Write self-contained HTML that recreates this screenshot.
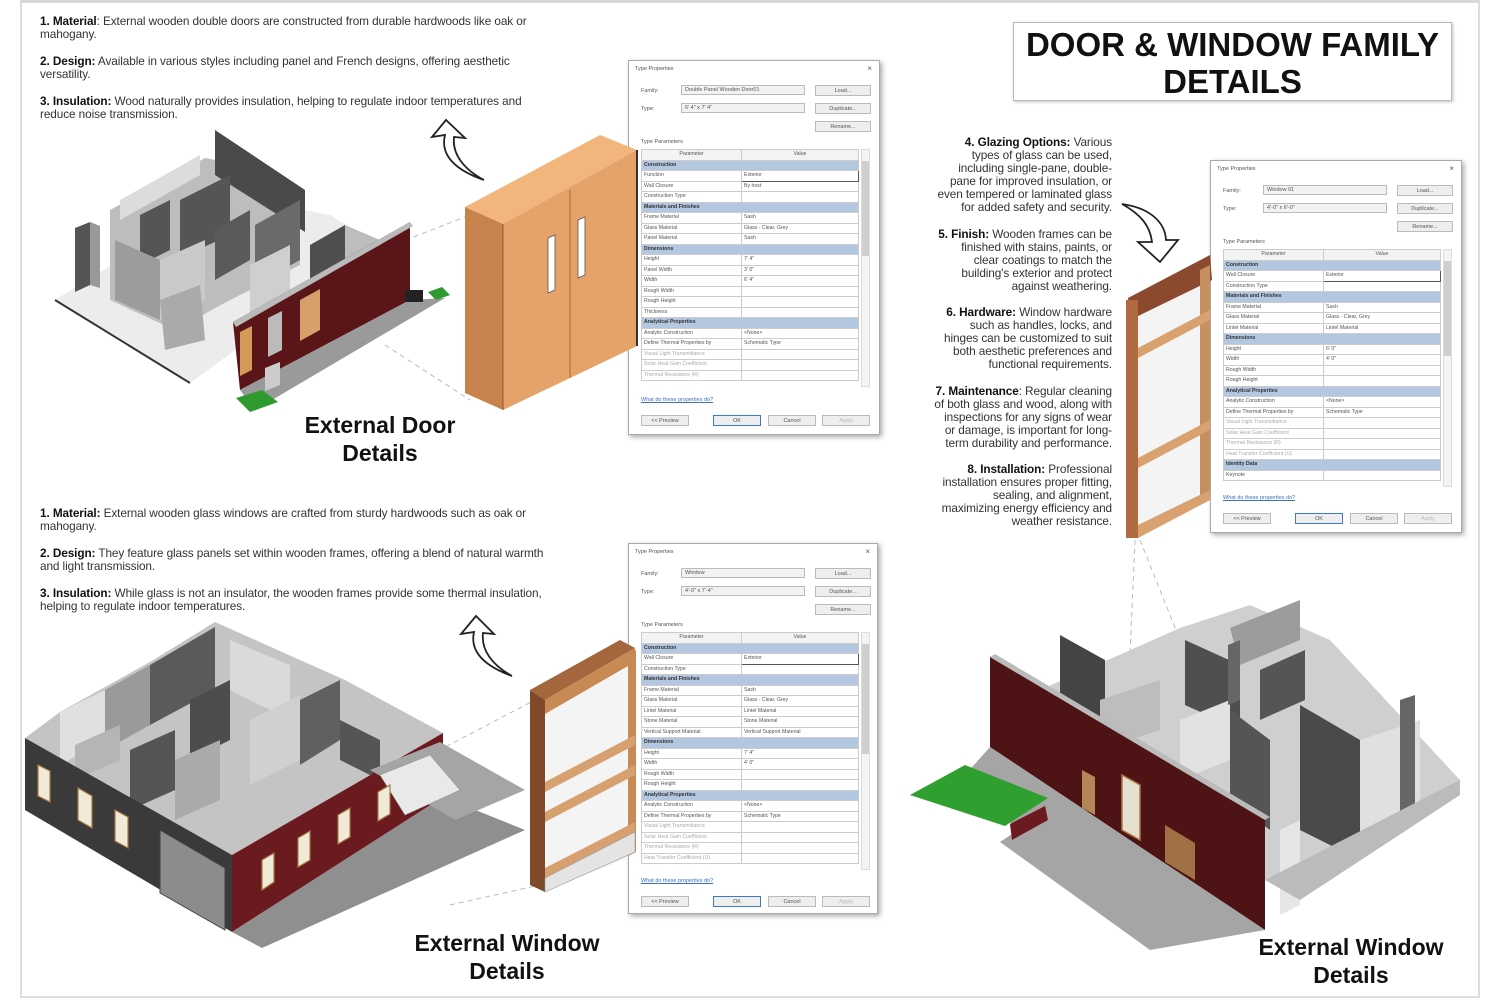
<!DOCTYPE html>
<html><head><meta charset="utf-8">
<style>
*{margin:0;padding:0;box-sizing:border-box}
body{width:1500px;height:1000px;background:#fff;position:relative;overflow:hidden;font-family:"Liberation Sans",sans-serif;color:#222}
.frame{position:absolute;left:20px;top:0;width:1460px;height:998px;border:2px solid #ddd;border-top:3px solid #d8d8d8}
svg.bg{position:absolute;left:0;top:0}
.txt{position:absolute;font-size:11.8px;line-height:13px;color:#333;letter-spacing:-0.1px;white-space:nowrap}
.txt p{margin-bottom:14px}
.txt b{color:#111}
.rt{text-align:right;line-height:13.1px}
.rt p{margin-bottom:13px}
.lbl{position:absolute;font-weight:bold;font-size:23px;line-height:28px;text-align:center;color:#111}
.title{position:absolute;left:1013px;top:22px;width:439px;height:79px;border:1px solid #bbb;box-shadow:1px 1px 3px rgba(0,0,0,.25);font-weight:bold;font-size:33px;line-height:37px;text-align:center;padding-top:3px;color:#111}
.dlg{position:absolute;background:#fff;border:1px solid #aaa;box-shadow:2px 2px 5px rgba(0,0,0,.35);font-size:5.5px;color:#555}
.dlg div{position:absolute;white-space:nowrap}
.tt{left:6px;top:5px}
.xx{right:7px;top:3px;font-size:8px}
.lb{left:12px}
.dd{left:52px;width:124px;height:10px;border:1px solid #bbb;background:#f2f2f2;padding-left:3px;line-height:9px}
.bt{left:186px;width:56px;height:11px;border:1px solid #bbb;background:#eee;text-align:center;line-height:10px}
.lb2{left:12px}
.tb{position:absolute;left:12px;width:218px;border-collapse:collapse;table-layout:fixed}
.tb td{height:10.5px;border:1px solid #ccc;padding:0 2px;font-size:5.2px;line-height:9px;white-space:nowrap;overflow:hidden;color:#555}
.tb tr.h td{background:#f3f3f3;text-align:center}
.tb tr.s td{background:#b3c7e0;font-weight:bold;color:#333}
.tb tr.g td{color:#aaa}
.sb{left:232px;width:9px;border:1px solid #ddd;background:#f4f4f4}
.sbt{left:233px;width:7px;background:#cfcfcf}
.lnk{left:12px;color:#3a6fc4;text-decoration:underline}
.bb{width:48px;height:11px;border:1px solid #bbb;background:#eee;text-align:center;line-height:10px}
.ok{border:1.5px solid #3b7bd0}
.ap{color:#bbb}
</style></head><body>
<div class="frame"></div>

<svg class="bg" width="1500" height="1000" viewBox="0 0 1500 1000">
<g stroke="#bbb" stroke-width="1" stroke-dasharray="5,4" fill="none">
<line x1="380" y1="250" x2="470" y2="215"/><line x1="385" y1="345" x2="470" y2="400"/>
<line x1="430" y1="755" x2="535" y2="700"/><line x1="450" y1="905" x2="540" y2="885"/>
<line x1="1135" y1="540" x2="1130" y2="655"/><line x1="1140" y1="540" x2="1180" y2="640"/>
</g>

<!-- ===== Building 1 ===== -->
<polygon points="55,300 225,195 330,215 380,245 190,383" fill="#ececec"/>
<polyline points="55,300 190,383" stroke="#333" stroke-width="2" fill="none"/>
<polygon points="110,265 110,210 205,158 260,168 300,195 300,265 230,300 175,330 110,300" fill="#bdbdbd"/>
<polygon points="215,130 305,190 305,232 215,175" fill="#4a4a4a"/>
<polygon points="120,200 200,155 200,175 120,220" fill="#dcdcdc"/>
<polygon points="140,215 170,200 170,250 140,265" fill="#555"/>
<polygon points="180,200 230,175 230,235 180,258" fill="#555"/>
<polygon points="215,230 250,210 250,260 215,280" fill="#5a5a5a"/>
<polygon points="255,225 300,200 300,260 255,285" fill="#6a6a6a"/>
<polygon points="115,240 160,260 160,320 115,300" fill="#9c9c9c"/>
<polygon points="160,260 205,240 205,300 160,320" fill="#c9c9c9"/>
<polygon points="160,300 200,285 205,340 165,350" fill="#aaa"/>
<polygon points="75,228 90,222 90,285 75,292" fill="#555"/>
<polygon points="90,222 100,226 100,288 90,285" fill="#999"/>
<polygon points="310,245 345,225 345,280 310,295" fill="#4f4f4f"/>
<polygon points="345,225 380,240 380,260 345,280" fill="#bdbdbd"/>
<polygon points="250,265 290,245 290,300 250,320" fill="#cfcfcf"/>
<polygon points="233,322 410,222 410,300 240,390" fill="#5a1518"/>
<polygon points="233,322 410,222 413,226 236,327" fill="#bbb"/>
<polygon points="240,390 410,300 445,298 255,410" fill="#9a9a9a"/>
<polygon points="240,332 252,326 252,370 240,376" fill="#d39a5a"/>
<polygon points="268,318 282,311 282,350 268,357" fill="#bbb"/>
<polygon points="300,300 320,289 320,330 300,341" fill="#d6a06a"/>
<polygon points="236,398 262,390 278,402 250,412" fill="#2f9a2f"/>
<polygon points="428,292 442,287 450,295 436,300" fill="#2f9a2f"/>
<rect x="405" y="290" width="18" height="12" fill="#222"/>
<polygon points="265,368 280,362 280,385 265,391" fill="#ccc"/>

<!-- Curved arrows -->
<path d="M484,180 C455,170 440,155 445,135 L432,137 L446,120 L465,138 L454,137 C452,155 465,170 484,180 Z" fill="#fff" stroke="#222" stroke-width="1.8"/>
<path d="M512,676 C482,665 470,650 474,632 L461,634 L476,616 L494,634 L483,633 C481,650 492,665 512,676 Z" fill="#fff" stroke="#222" stroke-width="1.8"/>
<path d="M1122,204 C1150,208 1165,222 1166,240 L1178,240 L1160,262 L1138,242 L1152,242 C1150,225 1140,214 1122,204 Z" fill="#fff" stroke="#222" stroke-width="1.8"/>

<!-- ===== Building 3 ===== -->
<polygon points="25,738 60,712 150,662 215,622 300,660 345,680 443,733 232,855" fill="#c4c4c4"/>
<polygon points="60,712 105,690 105,740 60,765" fill="#e0e0e0"/>
<polygon points="150,665 215,627 215,690 150,725" fill="#5a5a5a"/>
<polygon points="105,690 150,665 150,725 105,750" fill="#9a9a9a"/>
<polygon points="230,640 290,665 290,720 230,690" fill="#dadada"/>
<polygon points="190,700 230,680 230,740 190,760" fill="#4d4d4d"/>
<polygon points="250,720 300,695 300,760 250,785" fill="#d0d0d0"/>
<polygon points="300,700 340,680 340,740 300,765" fill="#606060"/>
<polygon points="130,750 175,730 175,790 130,810" fill="#555"/>
<polygon points="175,760 220,740 220,800 175,820" fill="#aaa"/>
<polygon points="340,720 380,740 380,780 340,760" fill="#555"/>
<polygon points="75,745 120,725 120,760 75,780" fill="#b5b5b5"/>
<polygon points="25,738 232,855 232,932 25,810" fill="#3a3a3a"/>
<polygon points="232,855 443,733 443,797 232,932" fill="#6b1a1f"/>
<polygon points="232,932 443,797 525,830 262,948" fill="#8f8f8f"/>
<polygon points="370,770 440,742 525,790 455,820" fill="#a5a5a5"/>
<polygon points="380,775 430,755 460,790 405,815" fill="#e9e9e9" stroke="#999" stroke-width="0.6"/>
<g fill="#f2ead8" stroke="#a77a45" stroke-width="1.2">
<polygon points="38,765 50,771 50,802 38,796"/>
<polygon points="78,788 92,796 92,828 78,820"/>
<polygon points="115,810 128,817 128,848 115,841"/>
<polygon points="262,860 274,853 274,882 262,890"/>
<polygon points="298,838 310,831 310,860 298,867"/>
<polygon points="338,815 350,808 350,837 338,844"/>
<polygon points="378,792 390,785 390,814 378,821"/>
</g>
<polygon points="160,830 225,868 225,930 160,893" fill="#8c8c8c" stroke="#444" stroke-width="1"/>

<!-- ===== Building 4 ===== -->
<polygon points="1040,690 1180,628 1250,605 1330,640 1460,780 1300,890 1265,880 1265,820 1040,690" fill="#cfcfcf"/>
<polygon points="1060,635 1105,660 1105,720 1060,700" fill="#444"/>
<polygon points="1185,640 1240,665 1240,730 1185,705" fill="#4f4f4f"/>
<polygon points="1230,628 1300,600 1300,640 1240,665" fill="#9c9c9c"/>
<polygon points="1260,670 1305,650 1305,700 1260,720" fill="#555"/>
<polygon points="1100,700 1160,680 1160,730 1100,750" fill="#bdbdbd"/>
<polygon points="1180,720 1230,700 1230,760 1180,780" fill="#e2e2e2"/>
<polygon points="1230,710 1270,740 1270,830 1230,800" fill="#555"/>
<polygon points="1300,705 1360,740 1360,860 1300,830" fill="#4a4a4a"/>
<polygon points="1360,740 1420,720 1420,820 1360,855" fill="#e0e0e0"/>
<polygon points="1400,700 1415,695 1415,815 1400,820" fill="#666"/>
<polygon points="1228,645 1240,640 1240,700 1228,705" fill="#666"/>
<polygon points="1280,830 1300,820 1300,905 1280,915" fill="#e6e6e6"/>
<polygon points="1265,880 1460,780 1460,795 1300,900" fill="#bbb"/>
<polygon points="990,657 1265,820 1265,930 990,747" fill="#4e1315"/>
<polygon points="990,657 995,654 1270,817 1265,820" fill="#bbb"/>
<polygon points="990,747 1265,930 1150,950 1000,842 1012,834 1008,805 965,775" fill="#a5a5a5"/>
<polygon points="910,795 965,765 1048,798 1005,826" fill="#2fa02f"/>
<polygon points="1010,824 1045,806 1048,820 1012,840" fill="#6b1a1f"/>
<polygon points="1082,770 1095,777 1095,815 1082,808" fill="#b58656"/>
<polygon points="1122,775 1140,785 1140,840 1122,830" fill="#e6e0d0" stroke="#a77a45" stroke-width="1.5"/>
<polygon points="1165,825 1195,843 1195,880 1165,862" fill="#a27045"/>
</svg>

<div class="txt" style="left:40px;top:15px">
<p><b>1. Material</b>: External wooden double doors are constructed from durable hardwoods like oak or<br>mahogany.</p>
<p><b>2. Design:</b> Available in various styles including panel and French designs, offering aesthetic<br>versatility.</p>
<p><b>3. Insulation:</b> Wood naturally provides insulation, helping to regulate indoor temperatures and<br>reduce noise transmission.</p>
</div>

<div class="txt" style="left:40px;top:507px">
<p><b>1. Material:</b> External wooden glass windows are crafted from sturdy hardwoods such as oak or<br>mahogany.</p>
<p><b>2. Design:</b> They feature glass panels set within wooden frames, offering a blend of natural warmth<br>and light transmission.</p>
<p><b>3. Insulation:</b> While glass is not an insulator, the wooden frames provide some thermal insulation,<br>helping to regulate indoor temperatures.</p>
</div>

<div class="txt rt" style="left:880px;top:136px;width:232px">
<p><b>4. Glazing Options:</b> Various<br>types of glass can be used,<br>including single-pane, double-<br>pane for improved insulation, or<br>even tempered or laminated glass<br>for added safety and security.</p>
<p><b>5. Finish:</b> Wooden frames can be<br>finished with stains, paints, or<br>clear coatings to match the<br>building's exterior and protect<br>against weathering.</p>
<p><b>6. Hardware:</b> Window hardware<br>such as handles, locks, and<br>hinges can be customized to suit<br>both aesthetic preferences and<br>functional requirements.</p>
<p><b>7. Maintenance</b>: Regular cleaning<br>of both glass and wood, along with<br>inspections for any signs of wear<br>or damage, is important for long-<br>term durability and performance.</p>
<p><b>8. Installation:</b> Professional<br>installation ensures proper fitting,<br>sealing, and alignment,<br>maximizing energy efficiency and<br>weather resistance.</p>
</div>

<div class="title">DOOR &amp; WINDOW FAMILY<br>DETAILS</div>
<div class="lbl" style="left:230px;top:411px;width:300px">External Door<br>Details</div>
<div class="lbl" style="left:357px;top:929px;width:300px">External Window<br>Details</div>
<div class="lbl" style="left:1201px;top:933px;width:300px">External Window<br>Details</div>

<!-- Dialog 1 -->
<div class="dlg" style="left:628px;top:60px;width:252px;height:375px">
<div class="tt">Type Properties</div><div class="xx">×</div>
<div class="lb" style="top:27px">Family:</div><div class="dd" style="top:24px">Double Panel Wooden Door01</div><div class="bt" style="top:24px">Load...</div>
<div class="lb" style="top:45px">Type:</div><div class="dd" style="top:42px">6' 4" x 7' 4"</div><div class="bt" style="top:42px">Duplicate...</div>
<div class="bt" style="top:60px">Rename...</div>
<div class="lb2" style="top:78px">Type Parameters</div>
<table class="tb" style="top:88px">
<tr class="h"><td style="width:100px">Parameter</td><td>Value</td></tr>
<tr class="s"><td colspan="2">Construction</td></tr>
<tr><td>Function</td><td style="border:1.5px solid #555">Exterior</td></tr>
<tr><td>Wall Closure</td><td>By host</td></tr>
<tr><td>Construction Type</td><td></td></tr>
<tr class="s"><td colspan="2">Materials and Finishes</td></tr>
<tr><td>Frame Material</td><td>Sash</td></tr>
<tr><td>Glass Material</td><td>Glass - Clear, Grey</td></tr>
<tr><td>Panel Material</td><td>Sash</td></tr>
<tr class="s"><td colspan="2">Dimensions</td></tr>
<tr><td>Height</td><td>7' 4"</td></tr>
<tr><td>Panel Width</td><td>3' 0"</td></tr>
<tr><td>Width</td><td>6' 4"</td></tr>
<tr><td>Rough Width</td><td></td></tr>
<tr><td>Rough Height</td><td></td></tr>
<tr><td>Thickness</td><td></td></tr>
<tr class="s"><td colspan="2">Analytical Properties</td></tr>
<tr><td>Analytic Construction</td><td>&lt;None&gt;</td></tr>
<tr><td>Define Thermal Properties by</td><td>Schematic Type</td></tr>
<tr class="g"><td>Visual Light Transmittance</td><td></td></tr>
<tr class="g"><td>Solar Heat Gain Coefficient</td><td></td></tr>
<tr class="g"><td>Thermal Resistance (R)</td><td></td></tr>
</table>
<div class="sb" style="top:88px;height:238px"></div><div class="sbt" style="top:100px;height:95px"></div>
<div class="lnk" style="top:336px">What do these properties do?</div>
<div class="bb" style="left:12px;top:354px">&lt;&lt; Preview</div>
<div class="bb ok" style="left:84px;top:354px">OK</div>
<div class="bb" style="left:139px;top:354px">Cancel</div>
<div class="bb ap" style="left:193px;top:354px">Apply</div>
</div>

<!-- Dialog 2 -->
<div class="dlg" style="left:1210px;top:160px;width:252px;height:373px">
<div class="tt">Type Properties</div><div class="xx">×</div>
<div class="lb" style="top:27px">Family:</div><div class="dd" style="top:24px">Window 01</div><div class="bt" style="top:24px">Load...</div>
<div class="lb" style="top:45px">Type:</div><div class="dd" style="top:42px">4'-0" x 6'-0"</div><div class="bt" style="top:42px">Duplicate...</div>
<div class="bt" style="top:60px">Rename...</div>
<div class="lb2" style="top:78px">Type Parameters</div>
<table class="tb" style="top:88px">
<tr class="h"><td style="width:100px">Parameter</td><td>Value</td></tr>
<tr class="s"><td colspan="2">Construction</td></tr>
<tr><td>Wall Closure</td><td style="border:1.5px solid #555">Exterior</td></tr>
<tr><td>Construction Type</td><td></td></tr>
<tr class="s"><td colspan="2">Materials and Finishes</td></tr>
<tr><td>Frame Material</td><td>Sash</td></tr>
<tr><td>Glass Material</td><td>Glass - Clear, Grey</td></tr>
<tr><td>Lintel Material</td><td>Lintel Material</td></tr>
<tr class="s"><td colspan="2">Dimensions</td></tr>
<tr><td>Height</td><td>6' 0"</td></tr>
<tr><td>Width</td><td>4' 0"</td></tr>
<tr><td>Rough Width</td><td></td></tr>
<tr><td>Rough Height</td><td></td></tr>
<tr class="s"><td colspan="2">Analytical Properties</td></tr>
<tr><td>Analytic Construction</td><td>&lt;None&gt;</td></tr>
<tr><td>Define Thermal Properties by</td><td>Schematic Type</td></tr>
<tr class="g"><td>Visual Light Transmittance</td><td></td></tr>
<tr class="g"><td>Solar Heat Gain Coefficient</td><td></td></tr>
<tr class="g"><td>Thermal Resistance (R)</td><td></td></tr>
<tr class="g"><td>Heat Transfer Coefficient (U)</td><td></td></tr>
<tr class="s"><td colspan="2">Identity Data</td></tr>
<tr><td>Keynote</td><td></td></tr>
</table>
<div class="sb" style="top:88px;height:238px"></div><div class="sbt" style="top:100px;height:95px"></div>
<div class="lnk" style="top:334px">What do these properties do?</div>
<div class="bb" style="left:12px;top:352px">&lt;&lt; Preview</div>
<div class="bb ok" style="left:84px;top:352px">OK</div>
<div class="bb" style="left:139px;top:352px">Cancel</div>
<div class="bb ap" style="left:193px;top:352px">Apply</div>
</div>

<!-- Dialog 3 -->
<div class="dlg" style="left:628px;top:543px;width:250px;height:371px">
<div class="tt">Type Properties</div><div class="xx">×</div>
<div class="lb" style="top:27px">Family:</div><div class="dd" style="top:24px">Window</div><div class="bt" style="top:24px">Load...</div>
<div class="lb" style="top:45px">Type:</div><div class="dd" style="top:42px">4'-0" x 7'-4"</div><div class="bt" style="top:42px">Duplicate...</div>
<div class="bt" style="top:60px">Rename...</div>
<div class="lb2" style="top:78px">Type Parameters</div>
<table class="tb" style="top:88px">
<tr class="h"><td style="width:100px">Parameter</td><td>Value</td></tr>
<tr class="s"><td colspan="2">Construction</td></tr>
<tr><td>Wall Closure</td><td style="border:1.5px solid #555">Exterior</td></tr>
<tr><td>Construction Type</td><td></td></tr>
<tr class="s"><td colspan="2">Materials and Finishes</td></tr>
<tr><td>Frame Material</td><td>Sash</td></tr>
<tr><td>Glass Material</td><td>Glass - Clear, Grey</td></tr>
<tr><td>Lintel Material</td><td>Lintel Material</td></tr>
<tr><td>Stone Material</td><td>Stone Material</td></tr>
<tr><td>Vertical Support Material</td><td>Vertical Support Material</td></tr>
<tr class="s"><td colspan="2">Dimensions</td></tr>
<tr><td>Height</td><td>7' 4"</td></tr>
<tr><td>Width</td><td>4' 0"</td></tr>
<tr><td>Rough Width</td><td></td></tr>
<tr><td>Rough Height</td><td></td></tr>
<tr class="s"><td colspan="2">Analytical Properties</td></tr>
<tr><td>Analytic Construction</td><td>&lt;None&gt;</td></tr>
<tr><td>Define Thermal Properties by</td><td>Schematic Type</td></tr>
<tr class="g"><td>Visual Light Transmittance</td><td></td></tr>
<tr class="g"><td>Solar Heat Gain Coefficient</td><td></td></tr>
<tr class="g"><td>Thermal Resistance (R)</td><td></td></tr>
<tr class="g"><td>Heat Transfer Coefficient (U)</td><td></td></tr>
</table>
<div class="sb" style="top:88px;height:238px"></div><div class="sbt" style="top:100px;height:110px"></div>
<div class="lnk" style="top:334px">What do these properties do?</div>
<div class="bb" style="left:12px;top:352px">&lt;&lt; Preview</div>
<div class="bb ok" style="left:84px;top:352px">OK</div>
<div class="bb" style="left:139px;top:352px">Cancel</div>
<div class="bb ap" style="left:193px;top:352px">Apply</div>
</div>

<!-- Foreground: door and windows overlapping dialogs -->
<svg class="bg" width="1500" height="1000" viewBox="0 0 1500 1000">
<polygon points="465,207 600,135 637,150 503,224" fill="#f2b57c"/>
<polygon points="465,207 503,224 503,410 465,393" fill="#c8834c"/>
<polygon points="503,224 637,150 637,346 503,410" fill="#e5a36a"/>
<line x1="570" y1="190" x2="570" y2="378" stroke="#b5733e" stroke-width="1.2"/>
<polygon points="548,238 555,235 555,290 548,293" fill="#fff" stroke="#555" stroke-width="0.8"/>
<polygon points="578,220 585,217 585,275 578,278" fill="#fff" stroke="#555" stroke-width="0.8"/>
<line x1="503" y1="224" x2="503" y2="410" stroke="#8a5a30" stroke-width="1"/>
<line x1="637" y1="150" x2="637" y2="346" stroke="#333" stroke-width="2"/>

<polygon points="1138,315 1205,280 1205,500 1138,532" fill="#f4f4f4"/>
<polygon points="1128,298 1210,255 1212,280 1130,320" fill="#8b4a2e"/>
<polygon points="1126,300 1138,300 1138,538 1126,538" fill="#b06a3d"/>
<polygon points="1200,270 1210,265 1210,500 1200,505" fill="#c78e5e"/>
<polygon points="1138,348 1210,310 1210,320 1138,358" fill="#d9a070"/>
<polygon points="1138,458 1210,420 1210,430 1138,468" fill="#d9a070"/>
<polygon points="1138,525 1210,490 1210,500 1138,538" fill="#d9a070"/>

<polygon points="545,712 628,668 628,858 545,890" fill="#f4f4f4"/>
<polygon points="530,690 620,640 635,648 545,700" fill="#a4663c"/>
<polygon points="545,700 635,648 635,662 545,714" fill="#c88a55"/>
<polygon points="530,690 545,700 545,892 530,885" fill="#7f4a2a"/>
<polygon points="628,654 636,650 636,852 628,856" fill="#c88a55"/>
<polygon points="545,782 635,735 635,745 545,792" fill="#d6a070"/>
<polygon points="545,812 635,765 635,775 545,822" fill="#d6a070"/>
<polygon points="545,868 635,822 635,832 545,878" fill="#d6a070"/>
<polygon points="545,878 635,832 635,852 545,892" fill="#e4e4e4" stroke="#999" stroke-width="0.6"/>
</svg>
</body></html>
